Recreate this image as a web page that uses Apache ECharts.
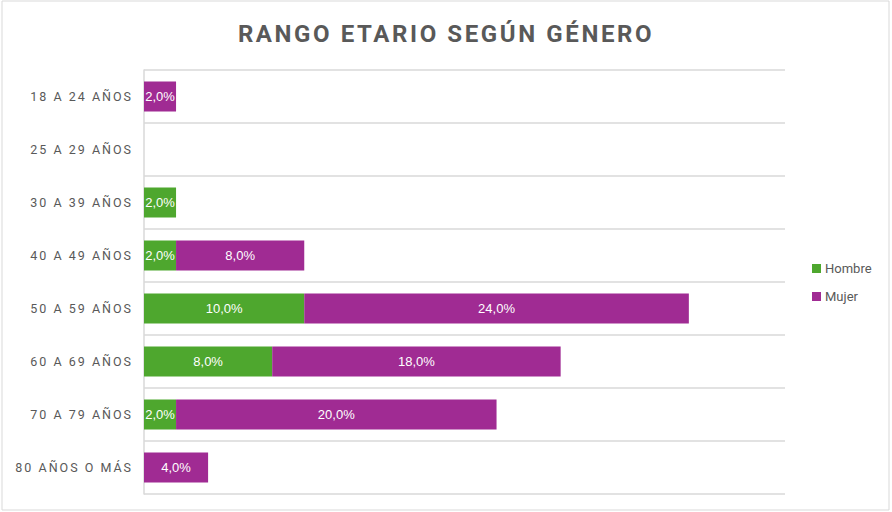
<!DOCTYPE html>
<html>
<head>
<meta charset="utf-8">
<script src="https://cdn.jsdelivr.net/npm/echarts@6/dist/echarts.min.js"></script>
<style>
  html, body { margin: 0; padding: 0; background: #fff; }
  #chart { width: 892px; height: 512px; }
</style>
</head>
<body>
<div id="chart"></div>
<script>
const titleText = 'RANGO ETARIO SEGÚN GÉNERO'
const categories = ['18 A 24 AÑOS', '25 A 29 AÑOS', '30 A 39 AÑOS', '40 A 49 AÑOS',
  '50 A 59 AÑOS', '60 A 69 AÑOS', '70 A 79 AÑOS', '80 AÑOS O MÁS']
const hombre = [0, 0, 2, 2, 10, 8, 2, 0]
const mujer = [2, 0, 0, 8, 24, 18, 20, 4]

const chart = echarts.init(document.getElementById('chart'), null, { renderer: 'svg' })

// etiqueta de la barra, vacía si el valor es 0
const fmt = (p) => p.value ? p.value.toFixed(1).replace('.', ',') + '%' : ''

const barLabel = {
  show: true,
  position: 'inside',
  color: '#fff',
  fontSize: 13,
  fontFamily: 'Liberation Sans',
  formatter: fmt
}

chart.setOption({
  animation: false,
  title: {
    text: titleText,
    left: 'center',
    top: 17,
    textStyle: { fontSize: 24, fontWeight: 'bold', color: '#595959', fontFamily: 'Roboto' }
  },
  graphic: [{
    type: 'rect',
    shape: { x: 2, y: 1, width: 887, height: 509 },
    style: { fill: 'none', stroke: '#d9d9d9', lineWidth: 1 },
    silent: true
  }],
  legend: {
    orient: 'vertical',
    left: 807,
    top: 257,
    itemWidth: 9,
    itemHeight: 9,
    itemGap: 15,
    icon: 'rect',
    textStyle: { color: '#595959', fontSize: 13, fontFamily: 'Roboto', padding: [0, 0, 0, -1] },
    data: ['Hombre', 'Mujer']
  },
  grid: { left: 144, right: 107, top: 70, bottom: 18 },
  xAxis: {
    type: 'value',
    min: 0,
    max: 40,
    show: false
  },
  yAxis: {
    type: 'category',
    inverse: true,
    data: categories,
    axisLine: { show: true, lineStyle: { color: '#d9d9d9', width: 1.5 } },
    axisTick: { show: false },
    splitLine: { show: true, lineStyle: { color: '#d9d9d9', width: 1.5 } },
    axisLabel: { color: '#595959', fontSize: 12.5, fontFamily: 'Roboto', margin: 11 }
  },
  series: [
    {
      name: 'Hombre',
      type: 'bar',
      stack: 'total',
      barWidth: '57%',
      itemStyle: { color: '#4EA72E' },
      label: barLabel,
      data: hombre
    },
    {
      name: 'Mujer',
      type: 'bar',
      stack: 'total',
      barWidth: '57%',
      itemStyle: { color: '#A02B93' },
      label: barLabel,
      data: mujer
    }
  ]
})

// espaciado de letras en el título y en las etiquetas del eje
const spaced = new Set(categories)
document.querySelectorAll('#chart text').forEach((t) => {
  const s = t.textContent
  if (s === titleText) t.style.letterSpacing = '2.6px'
  else if (spaced.has(s)) t.style.letterSpacing = '2px'
})
</script>
</body>
</html>
